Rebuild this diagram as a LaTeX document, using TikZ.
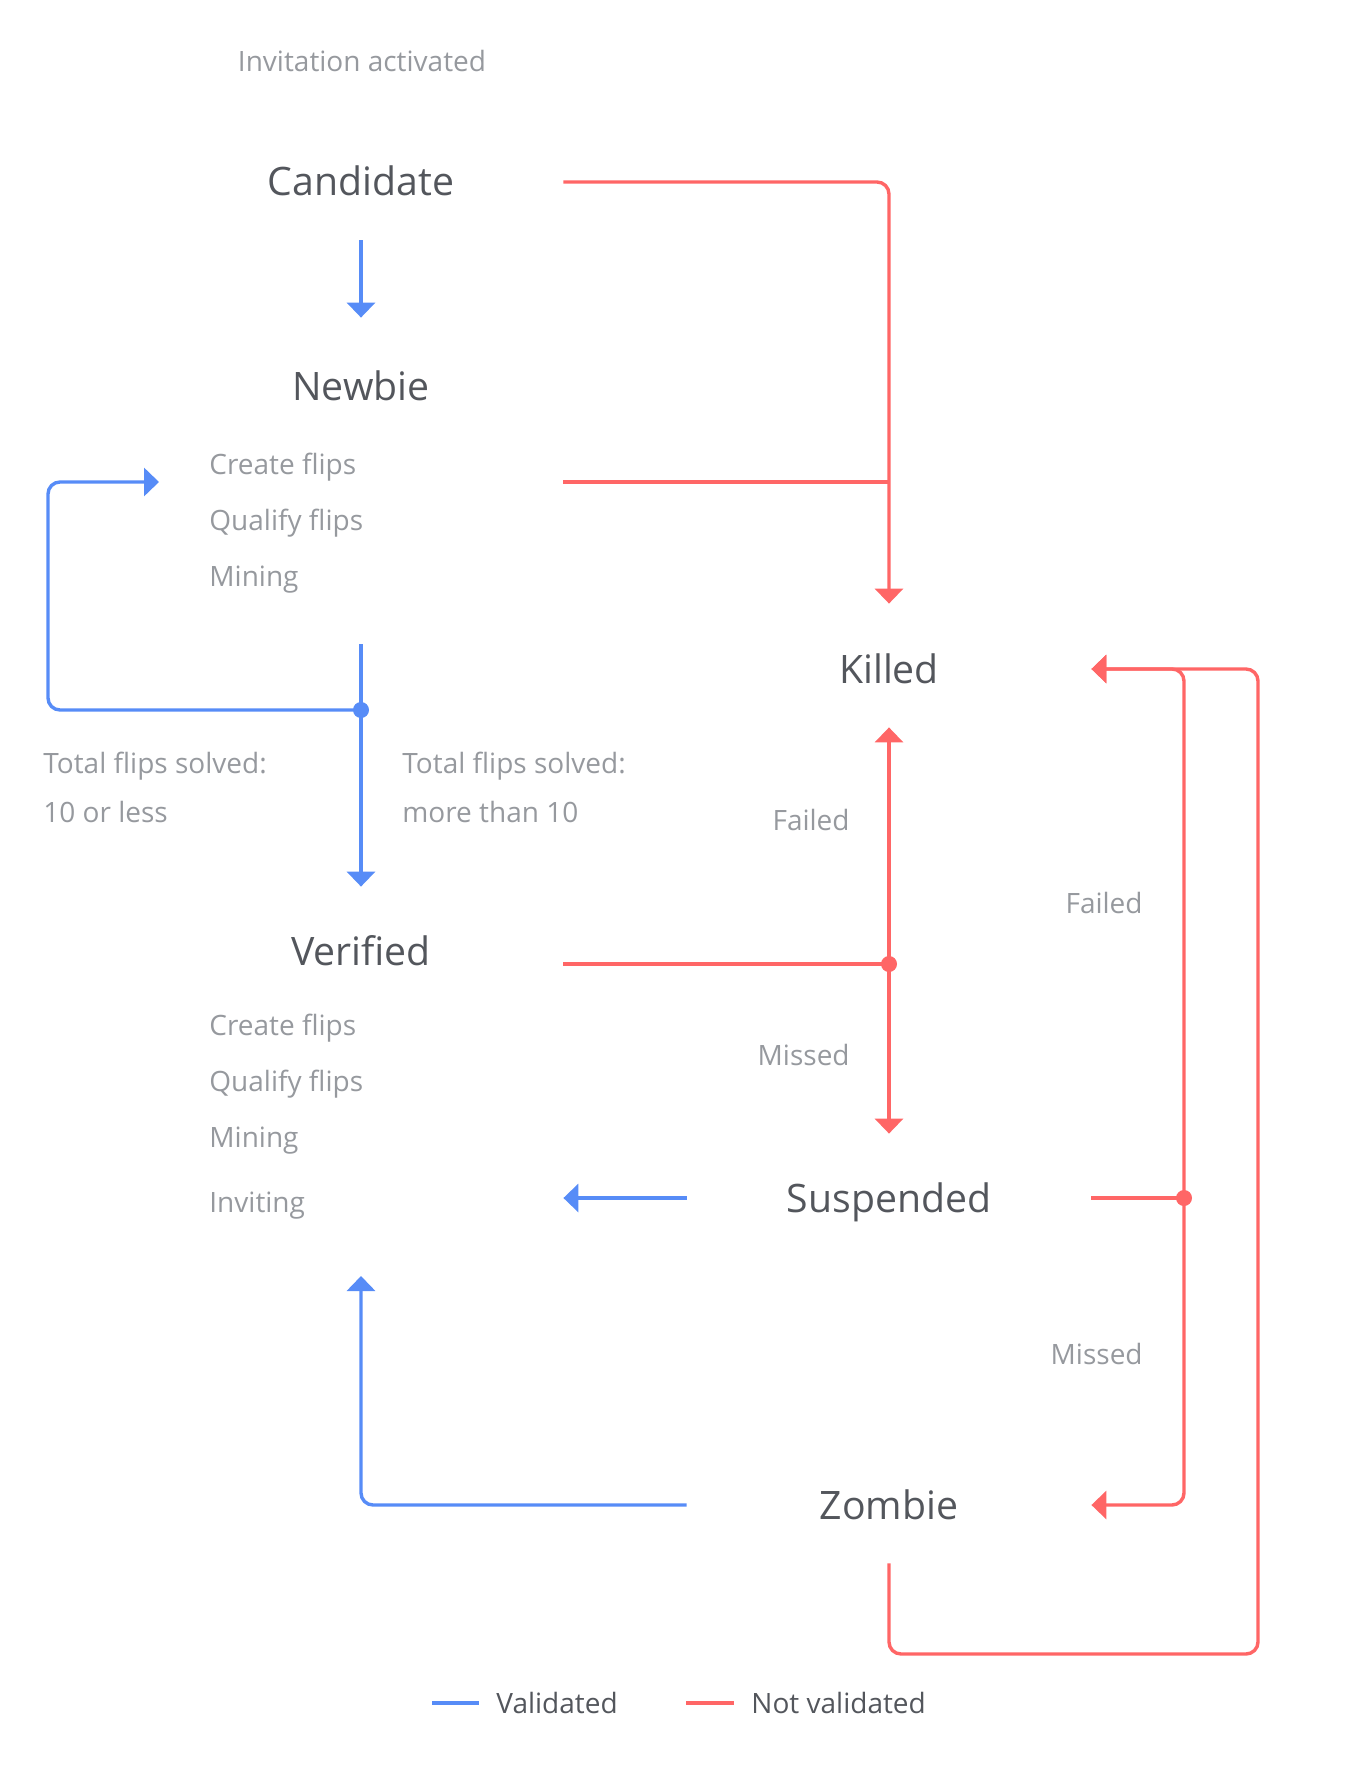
\documentclass[tikz,border=0pt]{standalone}
\usepackage{fontspec}
\setmainfont{Open Sans}
\usepackage{tikz}
\usetikzlibrary{calc}
\usetikzlibrary{arrows.meta}

\definecolor{valid}{HTML}{578CF7}
\definecolor{notvalid}{HTML}{FF6666}
\definecolor{statetext}{HTML}{53565C}
\definecolor{hinttext}{HTML}{96999E}

\begin{document}
\begin{tikzpicture}[x = 0.5pt, y = -0.5pt, > = {Triangle[length=7.5pt, width=14pt]},
state/.style={minimum width=202pt, minimum height=58pt, inner sep=0pt, text height=14pt, text depth=0pt,
              text=statetext, font=\fontsize{19.6}{24}\selectfont},
hint/.style={inner sep=0pt, text=hinttext, font=\fontsize{14}{17}\selectfont},
twoline/.style={hint, align=left, font=\fontsize{14}{24.5}\selectfont},
legend/.style={inner sep=0pt, text=statetext, font=\fontsize{14}{17}\selectfont},
yes/.style={valid, line width=1.7pt, rounded corners=6pt},
no/.style={notvalid, line width=1.7pt, rounded corners=6pt},
]
	\useasboundingbox (0,0) rectangle (1360,1786);

	\node[hint, anchor=base] (invite) at (362,72) {Invitation activated};

	\node[state] (cand)     at (361,182)  {Candidate};
	\node[state] (newbie)   at (361,387)  {Newbie};
	\node[state] (verified) at (361,951)  {Verified};
	\node[state] (killed)   at (889,669)  {Killed};
	\node[state] (susp)     at (889,1198) {Suspended};
	\node[state] (zombie)   at (889,1505) {Zombie};

	\node[hint, anchor=base west] (nb-create)  at (209,474) {Create flips};
	\node[hint, anchor=base west] (nb-qualify) at (209,530) {Qualify flips};
	\node[hint, anchor=base west] (nb-mining)  at (209,586) {Mining};

	\node[hint, anchor=base west] (vf-create)  at (209,1035) {Create flips};
	\node[hint, anchor=base west] (vf-qualify) at (209,1091) {Qualify flips};
	\node[hint, anchor=base west] (vf-mining)  at (209,1147) {Mining};
	\node[hint, anchor=base west] (vf-invite)  at (209,1212) {Inviting};

	\node[twoline, anchor=base west] (few)  at (43,822)  {Total flips solved:\\10 or less};
	\node[twoline, anchor=base west] (many) at (402,822) {Total flips solved:\\more than 10};

	\node[hint, anchor=base east] (failed-a) at (850,830)   {Failed};
	\node[hint, anchor=base east] (missed-a) at (850,1065)  {Missed};
	\node[hint, anchor=base east] (failed-b) at (1143,913)  {Failed};
	\node[hint, anchor=base east] (missed-b) at (1143,1364) {Missed};

	\coordinate (nb-out)    at (563,482);
	\coordinate (nb-foot)   at (361,644);
	\coordinate (split)     at (361,710);
	\coordinate (loop-left) at (48,710);
	\coordinate (nb-loop)   at (159,482);
	\coordinate (vf-out)    at (563,964);
	\coordinate (fork)      at (889,964);
	\coordinate (fork2)     at (1184,1198);
	\coordinate (vf-in)     at (361,1276);
	\coordinate (ring)      at (1258,1654);

	% validated
	\draw[yes, ->, shorten >=5.5pt] (cand.south) -- (newbie.north);
	\draw[yes, ->, shorten >=3pt] (nb-foot) -- (verified.north);
	\draw[yes, ->] (split) -- (loop-left) |- (nb-loop);
	\fill[valid] (split) circle (4pt);
	\draw[yes, ->] (susp.west) -- (susp.west -| verified.east);
	\draw[yes, ->] (zombie.west) -| (vf-in);

	% not validated
	\draw[no, ->, shorten >=3.5pt] (cand.east) -| (killed.north);
	\draw[no] (nb-out) -- (nb-out -| killed.north);
	\draw[no] (vf-out) -- (fork);
	\draw[no, ->] (fork) -- (killed.south);
	\draw[no, ->, shorten >=3pt] (fork) -- (susp.north);
	\fill[notvalid] (fork) circle (4pt);
	\draw[no] (susp.east) -- (fork2);
	\draw[no, ->] (fork2) |- (killed.east);
	\draw[no, ->] (fork2) |- (zombie.east);
	\fill[notvalid] (fork2) circle (4pt);
	\draw[no, ->] (zombie.south) |- (ring) |- (killed.east);

	% legend
	\node[legend, anchor=base west] (leg-yes) at (496,1713) {Validated};
	\node[legend, anchor=base west] (leg-no)  at (751,1713) {Not validated};
	\draw[valid, line width=2pt] ($(leg-yes.west)+(-64,0)$) -- ++(47,0);
	\draw[notvalid, line width=2pt] ($(leg-no.west)+(-65,0)$) -- ++(48,0);

\end{tikzpicture}
\end{document}
